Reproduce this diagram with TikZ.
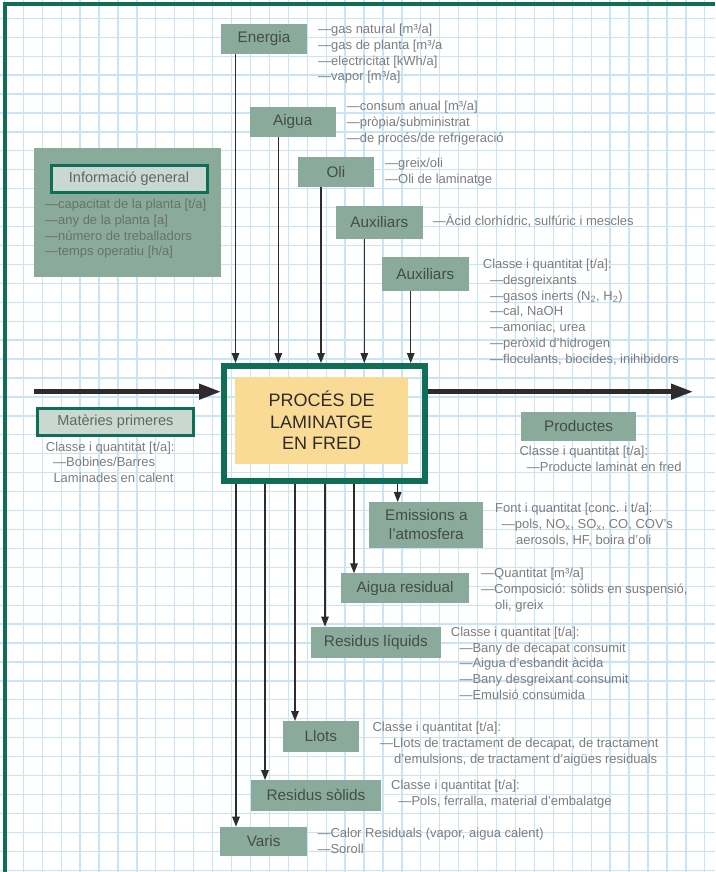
\documentclass[tikz,border=0pt]{standalone}
\usepackage{fontspec}
\setmainfont{Liberation Sans}
\usetikzlibrary{arrows.meta}
\definecolor{gridc}{HTML}{C8E4F6}
\definecolor{frameg}{HTML}{0F6E56}
\definecolor{boxg}{HTML}{8AAB9B}
\definecolor{lightg}{HTML}{C9D8D0}
\definecolor{yel}{HTML}{FADB96}
\definecolor{txtg}{HTML}{7C7D80}
\definecolor{lblg}{HTML}{444C48}
\definecolor{arrc}{HTML}{2E2B2C}
\begin{document}
\begin{tikzpicture}[x=1pt,y=-1pt,
  box/.style={fill=boxg, draw=none, anchor=north west, inner sep=0pt, outer sep=0pt,
    font=\fontsize{15.3}{19}\selectfont, text=lblg, align=center},
  hbox/.style={fill=lightg, draw=frameg, anchor=north west, inner sep=0pt,
    font=\fontsize{14.5}{17}\selectfont, text=lblg!85!white},
  lst/.style={anchor=base west, inner sep=0pt, font=\fontsize{13}{15.8}\selectfont, text=txtg},
  arr/.style={draw=arrc, line width=1.4pt, -{Triangle[length=10pt,width=7.5pt]}},
  bigarr/.style={draw=arrc, line width=4.5pt, -{Triangle[length=22pt,width=15pt]}}]
\useasboundingbox (0,0) rectangle (715,872);
\fill[white] (0,0) rectangle (715,872);
% grid
\begin{scope}
\clip (0,0) rectangle (715,872);
\foreach \k in {-1,...,36} \draw[gridc, line width=1.3pt] ({23.3+18.93*\k},0) -- ({23.3+18.93*\k},872);
\foreach \k in {1,...,46} \draw[gridc, line width=1.3pt] (0,{-0.6+18.93*\k}) -- (715,{-0.6+18.93*\k});
\end{scope}
% outer frame
\draw[frameg, line width=4pt] (5.3,872) -- (5.3,4.3) -- (715,4.3);

% input boxes
\node[box, minimum width=86pt, minimum height=30pt] (en) at (221,24) {Energia};
\node[box, minimum width=86pt, minimum height=30pt] (ai) at (249.7,107) {Aigua};
\node[box, minimum width=76.3pt, minimum height=30.3pt] (oli) at (297.7,156.7) {Oli};
\node[box, minimum width=86.7pt, minimum height=33pt] (ax1) at (336,206) {Auxiliars};
\node[box, minimum width=86.7pt, minimum height=33.7pt] (ax2) at (382,257) {Auxiliars};

% info general
\node[box, minimum width=187pt, minimum height=129pt] (info) at (34,148) {};
\node[hbox, line width=3pt, minimum width=156pt, minimum height=27pt] (infoh) at (49.5,163.5) {Informació general};
\node[lst, text=lblg!80!white] (in1) at (45,208.5) {—capacitat de la planta [t/a]};
\node[lst, text=lblg!80!white] (in2) at (45,224.3) {—any de la planta [a]};
\node[lst, text=lblg!80!white] (in3) at (45,240.1) {—número de treballadors};
\node[lst, text=lblg!80!white] (in4) at (45,255.9) {—temps operatiu [h/a]};

% process
\node[draw=frameg, line width=6pt, outer sep=3pt, inner sep=0pt, anchor=north west,
  minimum width=201pt, minimum height=115pt] (proc) at (221,363) {};
\node[fill=yel, anchor=north west, inner sep=0pt, minimum width=172.7pt, minimum height=86.6pt,
  font=\fontsize{18}{21.5}\selectfont, text=arrc, align=center] (yb) at (235,376.7) {PROCÉS DE\\LAMINATGE\\EN FRED};

% main flow
\coordinate (lin) at (34,391.7);
\coordinate (rout) at (693,391.7);
\draw[bigarr] (lin) -- (lin -| proc.west);
\draw[bigarr] (proc.east |- rout) -- (rout);

% materies primeres
\node[hbox, line width=2.5pt, minimum width=155.8pt, minimum height=26.8pt] (mat) at (36.25,407.25) {Matèries primeres};
\node[lst] (m1) at (45.7,451.5) {Classe i quantitat [t/a]:};
\node[lst] (m2) at (53,466.8) {—Bobines/Barres};
\node[lst] (m3) at (53.3,482.6) {Laminades en calent};

% productes
\node[box, minimum width=115pt, minimum height=28.4pt] (prod) at (521,412.3) {Productes};
\node[lst] (p1) at (519.3,455.2) {Classe i quantitat [t/a]:};
\node[lst] (p2) at (526.7,471.6) {—Producte laminat en fred};

% input lists
\node[lst] (e1) at (318,33.5) {—gas natural [m³/a]};
\node[lst] (e2) at (318,49.3) {—gas de planta [m³/a};
\node[lst] (e3) at (318,65.1) {—electricitat [kWh/a]};
\node[lst] (e4) at (318,80.9) {—vapor [m³/a]};
\node[lst] (a1) at (346.7,110.5) {—consum anual [m³/a]};
\node[lst] (a2) at (346.7,126.3) {—pròpia/subministrat};
\node[lst] (a3) at (346.7,142.1) {—de procés/de refrigeració};
\node[lst] (o1) at (385,167.5) {—greix/oli};
\node[lst] (o2) at (385,183.3) {—Oli de laminatge};
\node[lst] (x1) at (432.7,225.2) {—Àcid clorhídric, sulfúric i mescles};
\node[lst] (y0) at (482.7,268.5) {Classe i quantitat [t/a]:};
\node[lst] (y1) at (490,284.3) {—desgreixants};
\node[lst] (y2) at (490,300.1) {—gasos inerts (N\textsubscript{2}, H\textsubscript{2})};
\node[lst] (y3) at (490,315.9) {—cal, NaOH};
\node[lst] (y4) at (490,331.7) {—amoniac, urea};
\node[lst] (y5) at (490,347.5) {—peròxid d'hidrogen};
\node[lst] (y6) at (490,363.3) {—floculants, biocides, inihibidors};

% input arrows
\draw[arr] ([xshift=14.5pt]en.south west) -- ([xshift=14.5pt]en.south west |- proc.north);
\draw[arr] ([xshift=28.6pt]ai.south west) -- ([xshift=28.6pt]ai.south west |- proc.north);
\draw[arr] ([xshift=23.3pt]oli.south west) -- ([xshift=23.3pt]oli.south west |- proc.north);
\draw[arr] ([xshift=28.3pt]ax1.south west) -- ([xshift=28.3pt]ax1.south west |- proc.north);
\draw[arr] ([xshift=28.7pt]ax2.south west) -- ([xshift=28.7pt]ax2.south west |- proc.north);

% output boxes
\node[box, minimum width=114pt, minimum height=45.7pt, font=\fontsize{15.3}{19}\selectfont] (emi) at (369.3,502) {Emissions a\\l'atmosfera};
\node[box, minimum width=128.3pt, minimum height=30pt] (ares) at (341,573.3) {Aigua residual};
\node[box, minimum width=129.7pt, minimum height=31pt] (rliq) at (311,626.7) {Residus líquids};
\node[box, minimum width=76.3pt, minimum height=30.7pt] (llots) at (282.7,721) {Llots};
\node[box, minimum width=130pt, minimum height=30.7pt] (rsol) at (251,780) {Residus sòlids};
\node[box, minimum width=87.3pt, minimum height=29pt] (varis) at (220,826.7) {Varis};

% output arrows
\draw[arr] ([xshift=28.4pt]emi.north west |- proc.south) -- ([xshift=28.4pt]emi.north west);
\draw[arr] ([xshift=13pt]ares.north west |- proc.south) -- ([xshift=13pt]ares.north west);
\draw[arr] ([xshift=14pt]rliq.north west |- proc.south) -- ([xshift=14pt]rliq.north west);
\draw[arr] ([xshift=12.3pt]llots.north west |- proc.south) -- ([xshift=12.3pt]llots.north west);
\draw[arr] ([xshift=14pt]rsol.north west |- proc.south) -- ([xshift=14pt]rsol.north west);
\draw[arr] ([xshift=16pt]varis.north west |- proc.south) -- ([xshift=16pt]varis.north west);

% output lists
\node[lst] (f0) at (495,512.8) {Font i quantitat [conc. i t/a]:};
\node[lst] (f1) at (501.7,528.6) {—pols, NO\textsubscript{x}, SO\textsubscript{x}, CO, COV's};
\node[lst] (f2) at (516,544.4) {aerosols, HF, boira d'oli};
\node[lst] (r1) at (481,577.5) {—Quantitat [m³/a]};
\node[lst] (r2) at (481,593.3) {—Composició: sòlids en suspensió,};
\node[lst] (r3) at (495,609.1) {oli, greix};
\node[lst] (l0) at (450.7,636.2) {Classe i quantitat [t/a]:};
\node[lst] (l1) at (459.3,652) {—Bany de decapat consumit};
\node[lst] (l2) at (459.3,667.8) {—Aigua d'esbandit àcida};
\node[lst] (l3) at (459.3,683.6) {—Bany desgreixant consumit};
\node[lst] (l4) at (459.3,699.4) {—Emulsió consumida};
\node[lst] (t0) at (372.3,731.8) {Classe i quantitat [t/a]:};
\node[lst] (t1) at (380,747.6) {—Llots de tractament de decapat, de tractament};
\node[lst] (t2) at (394,763.4) {d'emulsions, de tractament d'aigües residuals};
\node[lst] (s0) at (391,789.5) {Classe i quantitat [t/a]:};
\node[lst] (s1) at (398.3,805) {—Pols, ferralla, material d'embalatge};
\node[lst] (v1) at (317.3,837.5) {—Calor Residuals (vapor, aigua calent)};
\node[lst] (v2) at (317.3,853.3) {—Soroll};
\end{tikzpicture}
\end{document}
